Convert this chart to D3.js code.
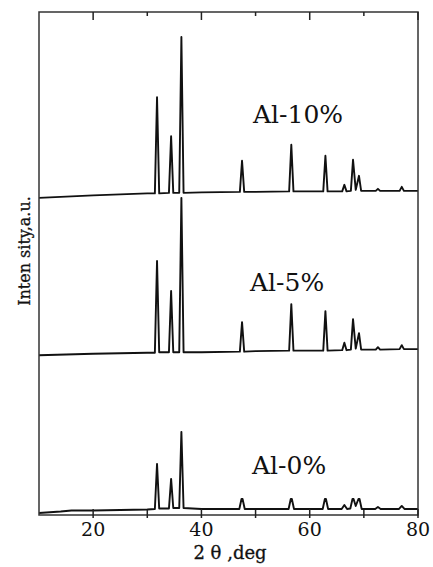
<!DOCTYPE html>
<html><head><meta charset="utf-8">
<script src="https://cdn.jsdelivr.net/npm/d3@7/dist/d3.min.js"></script>
<style>html,body{margin:0;padding:0;background:#fff;}</style>
</head><body>
<script>
// 2θ (deg) and intensity (a.u., arbitrary offset units)
const al0 = [[10,0],[14,0.3],[16,0.5],[20,0.5],[25,0.6],[30,0.7],[31.4,0.8],[31.8,9.8],[32.2,0.9],[34.0,0.9],[34.4,6.8],[34.8,1.0],[35.9,1.0],[36.3,16.2],[36.7,1.0],[40,0.8],[47.0,0.8],[47.4,2.8],[47.6,2.8],[48.0,0.8],[56.1,0.8],[56.5,2.8],[56.7,2.8],[57.1,0.8],[62.4,0.8],[62.8,2.8],[63.0,2.8],[63.4,0.8],[65.9,0.8],[66.4,1.6],[66.9,0.8],[67.5,0.9],[67.9,2.8],[68.1,2.8],[68.5,1.4],[69.0,2.8],[69.2,2.8],[69.6,0.8],[72.1,0.8],[72.6,1.2],[73.1,0.8],[76.5,0.8],[77.0,1.4],[77.5,0.8],[80,0.8]];
const al5 = [[10,31.5],[20,31.8],[30,32.0],[31.4,32.0],[31.8,50.3],[32.2,32.1],[34.0,32.1],[34.4,44.3],[34.8,32.1],[35.9,32.1],[36.3,62.9],[36.7,32.1],[40,32.1],[47.1,32.2],[47.5,38.1],[47.9,32.2],[50,32.3],[56.2,32.4],[56.6,41.7],[57.0,32.4],[60,32.4],[62.5,32.4],[62.9,40.3],[63.3,32.4],[66.0,32.5],[66.4,34.0],[66.8,32.5],[67.6,32.6],[68.0,38.7],[68.5,32.8],[69.1,35.9],[69.5,32.6],[72.2,32.6],[72.6,33.1],[73.0,32.6],[76.6,32.7],[77.0,33.5],[77.4,32.7],[80,32.7]];
const al10 = [[10,62.9],[20,63.4],[30,63.8],[31.4,63.8],[31.8,83.0],[32.2,63.8],[34.0,63.9],[34.4,75.2],[34.8,63.9],[35.9,63.9],[36.3,95.0],[36.7,63.9],[40,64.0],[47.1,64.1],[47.5,70.3],[47.9,64.1],[50,64.1],[56.2,64.2],[56.6,73.5],[57.0,64.2],[60,64.2],[62.5,64.2],[62.9,71.3],[63.3,64.2],[66.0,64.2],[66.4,65.5],[66.8,64.2],[67.6,64.3],[68.0,70.5],[68.5,64.5],[69.1,67.3],[69.5,64.3],[72.2,64.3],[72.6,64.7],[73.0,64.3],[76.6,64.3],[77.0,65.1],[77.4,64.3],[80,64.3]];
const seriesNames = ["Al-0%","Al-5%","Al-10%"];
const majorTicks = [20,40,60,80];
const minorTicks = [30,50,70];
const xTitle = "2 θ ,deg";
const yTitle = "Inten sity,a.u.";

const W=433,H=567, L=39,R=418,T=12,B=515;
const svg=d3.select("body").append("svg").attr("width",W).attr("height",H);
const x=d3.scaleLinear().domain([10,80]).range([L,R]);
const y=d3.scaleLinear().domain([-0.4,100]).range([B,T]);
const line=d3.line().x(d=>x(d[0])).y(d=>y(d[1]));

[al0,al5,al10].forEach(s=>{
  svg.append("path").attr("d",line(s)).attr("fill","none").attr("stroke","#111")
     .attr("stroke-width",1.9).attr("stroke-linejoin","round");
});

svg.append("rect").attr("x",L).attr("y",T).attr("width",R-L).attr("height",B-T)
   .attr("fill","none").attr("stroke","#333").attr("stroke-width",1.5);

const tk=svg.append("g").attr("stroke","#222").attr("stroke-width",1.5);
majorTicks.forEach(v=>{
  tk.append("line").attr("x1",x(v)).attr("x2",x(v)).attr("y1",B-6).attr("y2",B+3);
  tk.append("line").attr("x1",x(v)).attr("x2",x(v)).attr("y1",T).attr("y2",T+8);
});
minorTicks.forEach(v=>{
  tk.append("line").attr("x1",x(v)).attr("x2",x(v)).attr("y1",B-5).attr("y2",B+3);
  tk.append("line").attr("x1",x(v)).attr("x2",x(v)).attr("y1",T).attr("y2",T+4);
});

const font="'DejaVu Serif', 'Liberation Serif', serif";
svg.selectAll(".tl").data(majorTicks).enter().append("text")
  .attr("x",d=>x(d)).attr("y",536).attr("text-anchor","middle")
  .attr("font-family",font).attr("font-size",19).attr("fill","#111").text(d=>d);

svg.append("text").attr("x",230).attr("y",559).attr("text-anchor","middle")
  .attr("font-family",font).attr("font-size",18).attr("fill","#111")
  .attr("stroke","#111").attr("stroke-width",0.3).text(xTitle);

svg.append("text").attr("transform","translate(30,251) rotate(-90)").attr("text-anchor","middle")
  .attr("font-family",font).attr("font-size",16).attr("fill","#111")
  .attr("stroke","#111").attr("stroke-width",0.3).text(yTitle);

const labelPos=[[252,474],[250,291],[253,123]];
seriesNames.forEach((n,i)=>{
  svg.append("text").attr("x",labelPos[i][0]).attr("y",labelPos[i][1])
    .attr("font-family",font).attr("font-size",25).attr("fill","#111").text(n);
});
</script>
</body></html>
